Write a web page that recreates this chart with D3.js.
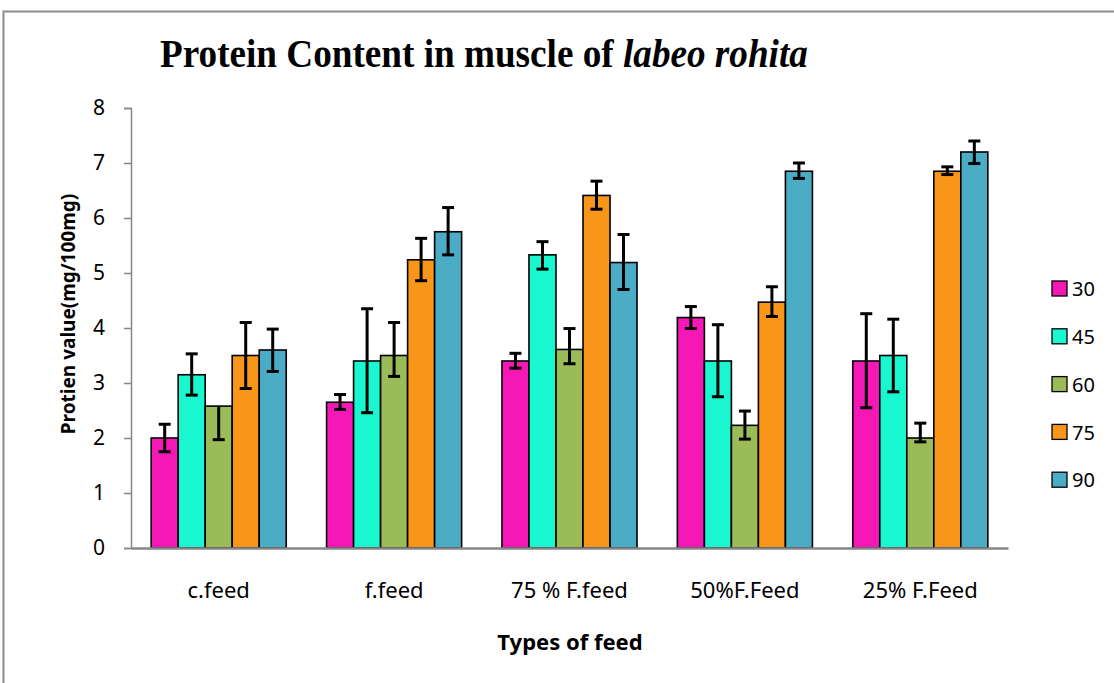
<!DOCTYPE html>
<html>
<head>
<meta charset="utf-8">
<script src="https://cdn.jsdelivr.net/npm/d3@7"></script>
<style>
  html, body { margin: 0; padding: 0; background: #fff; }
  svg { display: block; }
  .tick text { font-family: "Noto Sans", "Open Sans", sans-serif; }
</style>
</head>
<body>
<div id="chart"></div>
<script>
// chart data
const categories = ['c.feed', 'f.feed', '75 % F.feed', '50%F.Feed', '25% F.Feed'];
const seriesNames = ['30', '45', '60', '75', '90'];
const colors = ['#F618B6', '#19F7D0', '#9BBB59', '#F79619', '#4BACC6'];

// values per series, one entry per category
const s30 = [2.0, 2.65, 3.4, 4.19, 3.4];
const s45 = [3.15, 3.4, 5.33, 3.4, 3.5];
const s60 = [2.58, 3.5, 3.61, 2.23, 2.0];
const s75 = [3.5, 5.24, 6.41, 4.47, 6.85];
const s90 = [3.6, 5.75, 5.19, 6.85, 7.2];

// error bars (plus / minus)
const e30p = [0.25, 0.14, 0.14, 0.2, 0.86];
const e30m = [0.25, 0.13, 0.13, 0.2, 0.85];
const e45p = [0.38, 0.95, 0.24, 0.66, 0.66];
const e45m = [0.37, 0.94, 0.26, 0.65, 0.66];
const e60p = [0.0, 0.6, 0.38, 0.26, 0.27];
const e60m = [0.61, 0.38, 0.26, 0.25, 0.07];
const e75p = [0.6, 0.39, 0.26, 0.28, 0.08];
const e75m = [0.6, 0.38, 0.25, 0.26, 0.06];
const e90p = [0.38, 0.44, 0.51, 0.15, 0.2];
const e90m = [0.39, 0.42, 0.49, 0.13, 0.21];

const yTicks = [0, 1, 2, 3, 4, 5, 6, 7, 8];

const W = 1114, H = 683;
const plotLeft = 131, plotRight = 1008, plotTop = 108, plotBottom = 548;

const values = [s30, s45, s60, s75, s90];
const errPlus = [e30p, e45p, e60p, e75p, e90p];
const errMinus = [e30m, e45m, e60m, e75m, e90m];

const svg = d3.select('#chart').append('svg')
    .attr('width', W)
    .attr('height', H);

// outer chart border
svg.append('rect')
    .attr('x', 3.5).attr('y', 11.5)
    .attr('width', W + 10).attr('height', H + 10)
    .attr('fill', 'none')
    .attr('stroke', '#8c8c8c')
    .attr('stroke-width', 2);

const x0 = d3.scaleBand().domain(categories).range([plotLeft, plotRight]).paddingInner(0.23).paddingOuter(0.115);
const x1 = d3.scaleBand().domain(seriesNames).range([0, x0.bandwidth()]);
const y = d3.scaleLinear().domain([0, 8]).range([plotBottom, plotTop]);

// build flat rows for drawing
const rows = [];
categories.forEach((c, i) => {
    seriesNames.forEach((s, j) => {
        rows.push({ cat: c, ser: s, j: j, v: values[j][i], ep: errPlus[j][i], em: errMinus[j][i] });
    });
});

// bars
svg.append('g').selectAll('rect')
    .data(rows)
    .enter()
    .append('rect')
    .attr('x', d => x0(d.cat) + x1(d.ser))
    .attr('y', d => y(d.v))
    .attr('width', x1.bandwidth())
    .attr('height', d => y(0) - y(d.v))
    .attr('fill', d => colors[d.j])
    .attr('stroke', '#000')
    .attr('stroke-width', 1.6);

// y axis
const yAxis = svg.append('g')
    .attr('transform', `translate(${plotLeft},0)`)
    .call(d3.axisLeft(y).tickValues(yTicks).tickSize(7).tickPadding(19).tickFormat(d3.format('d')));
yAxis.select('.domain').attr('stroke', '#868686').attr('stroke-width', 1.5);
yAxis.selectAll('.tick line').attr('stroke', '#868686').attr('stroke-width', 1.5);
yAxis.selectAll('.tick text').attr('font-size', '21px').attr('fill', '#000');

// x axis line
const xAxis = svg.append('g')
    .attr('transform', `translate(0,${plotBottom})`)
    .call(d3.axisBottom(x0).tickSize(0).tickPadding(34));
xAxis.select('.domain').attr('stroke', '#868686').attr('stroke-width', 2.5);
xAxis.selectAll('.tick text').attr('font-size', '22px').attr('fill', '#000');

// error bars
const eb = svg.append('g').attr('stroke', '#000').attr('stroke-width', 3);
rows.forEach(d => {
    const cx = x0(d.cat) + x1(d.ser) + x1.bandwidth() / 2;
    const yt = y(d.v + d.ep), yb = y(d.v - d.em);
    eb.append('line').attr('x1', cx).attr('x2', cx).attr('y1', yt).attr('y2', yb);
    if (d.ep > 0) eb.append('line').attr('x1', cx - 6).attr('x2', cx + 6).attr('y1', yt).attr('y2', yt);
    eb.append('line').attr('x1', cx - 6).attr('x2', cx + 6).attr('y1', yb).attr('y2', yb);
});

// title (condensed to the width seen in the picture)
const title = svg.append('text')
    .attr('x', 0).attr('y', 0)
    .attr('font-family', '"Liberation Serif", "Times New Roman", serif')
    .attr('font-weight', 'bold')
    .attr('font-size', '40px')
    .attr('fill', '#000');
title.append('tspan').text('Protein Content in muscle of ');
title.append('tspan').attr('font-style', 'italic').text('labeo rohita');
const tw = title.node().getComputedTextLength();
title.attr('transform', `translate(160,67) scale(${648 / tw},1)`);

// axis titles
svg.append('text')
    .attr('transform', 'translate(75,314) rotate(-90)')
    .attr('text-anchor', 'middle')
    .attr('font-family', '"Noto Sans", "Open Sans", sans-serif')
    .attr('font-weight', 'bold')
    .attr('font-size', '19px')
    .text('Protien value(mg/100mg)');

svg.append('text')
    .attr('x', 570).attr('y', 650)
    .attr('text-anchor', 'middle')
    .attr('font-family', '"Noto Sans", "Open Sans", sans-serif')
    .attr('font-weight', 'bold')
    .attr('font-size', '22px')
    .text('Types of feed');

// legend
const legend = svg.append('g').attr('transform', 'translate(1052,281)');
const items = legend.selectAll('g')
    .data(seriesNames)
    .enter()
    .append('g')
    .attr('transform', (d, i) => `translate(0,${i * 47.8})`);
items.append('rect')
    .attr('width', 15).attr('height', 15)
    .attr('fill', (d, i) => colors[i])
    .attr('stroke', '#000')
    .attr('stroke-width', 1.3);
items.append('text')
    .attr('x', 20).attr('y', 8)
    .attr('dy', '0.36em')
    .attr('font-family', '"Noto Sans", "Open Sans", sans-serif')
    .attr('font-size', '20px')
    .text(d => d);
</script>
</body>
</html>
